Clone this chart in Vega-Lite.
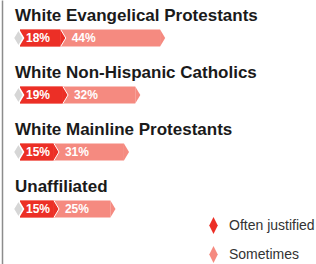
{
  "$schema": "https://vega.github.io/schema/vega-lite/v6.json",
  "width": 296,
  "height": 264,
  "autosize": {"type": "none"},
  "padding": {"left": 20, "top": 0, "right": 0, "bottom": 0},
  "background": "white",
  "config": {"view": {"stroke": null}, "font": "Liberation Sans"},
  "data": {
    "values": [
      {"group": "White Evangelical Protestants", "often": 18, "sometimes": 44, "total": 62},
      {"group": "White Non-Hispanic Catholics", "often": 19, "sometimes": 32, "total": 51},
      {"group": "White Mainline Protestants", "often": 15, "sometimes": 31, "total": 46},
      {"group": "Unaffiliated", "often": 15, "sometimes": 25, "total": 40}
    ]
  },
  "encoding": {
    "y": {
      "field": "group",
      "type": "nominal",
      "sort": null,
      "scale": {"paddingInner": 0, "paddingOuter": 0.316, "align": 0.264},
      "axis": {"labels": false, "ticks": false, "title": null, "domainColor": "#8c8c8c", "domainWidth": 1.5, "offset": 18, "grid": false}
    }
  },
  "layer": [
    {
      "mark": {"type": "bar", "size": 17},
      "encoding": {
        "x": {"field": "total", "type": "quantitative", "scale": {"domain": [0, 131], "nice": false, "zero": true}, "axis": null},
        "color": {
          "datum": "Sometimes",
          "type": "nominal",
          "scale": {"domain": ["Often justified", "Sometimes"], "range": ["#ec2f26", "#f58a80"]},
          "legend": {
            "orient": "bottom-right",
            "offset": 1,
            "padding": 0,
            "title": null,
            "symbolType": "M0,-1L0.5,0L0,1L-0.5,0Z",
            "symbolSize": 289,
            "symbolStrokeWidth": 0,
            "labelFontSize": 14,
            "labelFont": "Liberation Sans",
            "labelColor": "#333333",
            "labelOffset": 7,
            "rowPadding": 12
          }
        }
      }
    },
    {
      "mark": {"type": "point", "shape": "M0,-1L0.6,0L0,1Z", "size": 289, "filled": true, "opacity": 1, "fill": "#f58a80", "strokeWidth": 0},
      "encoding": {"x": {"field": "total", "type": "quantitative"}}
    },
    {
      "mark": {"type": "bar", "size": 17},
      "encoding": {
        "x": {"field": "often", "type": "quantitative"},
        "color": {"datum": "Often justified", "type": "nominal"}
      }
    },
    {
      "mark": {"type": "point", "shape": "M0,-1L0.6,0L0,1", "size": 289, "filled": true, "opacity": 1, "fill": "#ec2f26", "stroke": "white", "strokeWidth": 1},
      "encoding": {"x": {"field": "often", "type": "quantitative"}}
    },
    {
      "mark": {"type": "point", "shape": "M-0.6,0L0,-1L0.6,0L0,1Z", "size": 289, "filled": true, "opacity": 1, "fill": "#d6d6d6", "stroke": "white", "strokeWidth": 1.5},
      "encoding": {"x": {"datum": -0.7, "type": "quantitative"}}
    },
    {
      "mark": {"type": "text", "align": "left", "baseline": "middle", "dx": 6, "fontSize": 12, "fontWeight": "bold", "color": "white", "text": {"expr": "datum.often + '%'"}},
      "encoding": {"x": {"datum": 0, "type": "quantitative"}}
    },
    {
      "mark": {"type": "text", "align": "left", "baseline": "middle", "dx": 11, "fontSize": 12, "fontWeight": "bold", "color": "white", "text": {"expr": "datum.sometimes + '%'"}},
      "encoding": {"x": {"field": "often", "type": "quantitative"}}
    },
    {
      "mark": {"type": "text", "align": "left", "baseline": "middle", "dx": -5, "dy": -22, "fontSize": 17, "fontWeight": "bold", "color": "#1a1a1a"},
      "encoding": {"x": {"datum": 0, "type": "quantitative"}, "text": {"field": "group"}}
    }
  ]
}
